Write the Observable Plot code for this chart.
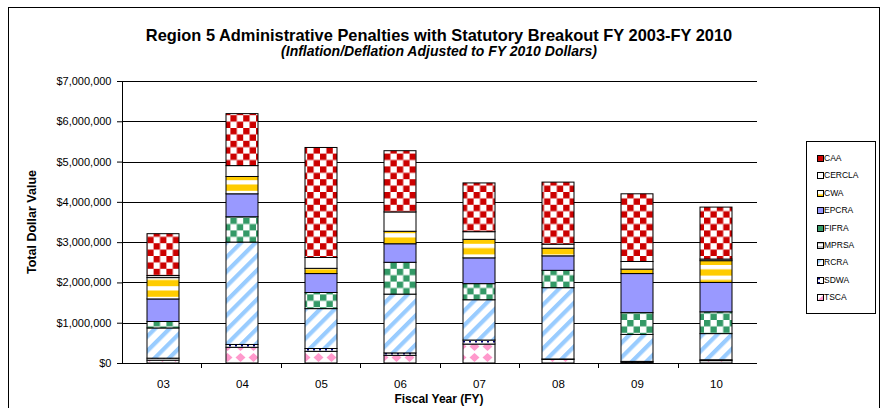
<!DOCTYPE html>
<html><head><meta charset="utf-8">
<script src="https://cdn.jsdelivr.net/npm/d3@7"></script>
<script src="https://cdn.jsdelivr.net/npm/@observablehq/plot@0.6"></script>
<style>
body{margin:0;background:#fff;font-family:Arial,"Liberation Sans",sans-serif;}
#wrap{position:relative;width:886px;height:408px;overflow:hidden;background:#fff;}
#border{position:absolute;left:8px;top:7px;width:872px;height:420px;border:1px solid #000;box-sizing:border-box;}
#chart{position:absolute;left:0;top:0;}
.t{position:absolute;white-space:nowrap;color:#000;}
#title{left:0;width:878px;top:26px;text-align:center;font-weight:bold;font-size:16.4px;line-height:18px;}
#subtitle{left:0;width:878px;top:44px;text-align:center;font-weight:bold;font-style:italic;font-size:14px;line-height:15px;}
#xtitle{left:339px;width:200px;top:393px;text-align:center;font-weight:bold;font-size:12px;line-height:13px;}
#ytitle{left:-68px;width:200px;top:215px;text-align:center;font-weight:bold;font-size:12.5px;line-height:14px;transform:rotate(-90deg);}
#legend{position:absolute;left:806px;top:141px;width:70px;height:173px;border:1px solid #000;box-sizing:border-box;background:#fff;}
.li{position:absolute;left:10px;height:10px;font-size:8.5px;line-height:10px;white-space:nowrap;}
.li svg{vertical-align:-1px;margin-right:0px;}
</style>
</head><body>
<div id="wrap">
  <div id="border"></div>
  <div id="chart"></div>
  <div class="t" id="title">Region 5 Administrative Penalties with Statutory Breakout FY 2003-FY 2010</div>
  <div class="t" id="subtitle">(Inflation/Deflation Adjusted to FY 2010 Dollars)</div>
  <div class="t" id="xtitle">Fiscal Year (FY)</div>
  <div class="t" id="ytitle">Total Dollar Value</div>
  <div id="legend"></div>
</div>
<script>
// ---- data ----
const years = ["03","04","05","06","07","08","09","10"];
// stacking order, bottom to top
const statutes = ["TSCA","SDWA","RCRA","MPRSA","FIFRA","EPCRA","CWA","CERCLA","CAA"];
// legend order (top to bottom)
const legendOrder = ["CAA","CERCLA","CWA","EPCRA","FIFRA","MPRSA","RCRA","SDWA","TSCA"];
const TSCA   = [70000, 390000, 290000, 190000, 470000, 90000, 20000, 60000];
const SDWA   = [50000, 70000, 70000, 60000, 100000, 10000, 20000, 20000];
const RCRA   = [750000, 2540000, 990000, 1460000, 1000000, 1770000, 670000, 650000];
const MPRSA  = [0, 0, 0, 0, 0, 0, 0, 0];
const FIFRA  = [160000, 630000, 400000, 790000, 400000, 430000, 540000, 540000];
const EPCRA  = [560000, 570000, 470000, 460000, 640000, 360000, 970000, 730000];
const CWA    = [530000, 430000, 130000, 310000, 460000, 190000, 110000, 540000];
const CERCLA = [50000, 270000, 270000, 480000, 190000, 100000, 190000, 40000];
const CAA    = [1040000, 1290000, 2730000, 1520000, 1210000, 1540000, 1680000, 1290000];
const yTicks = [0,1000000,2000000,3000000,4000000,5000000,6000000,7000000];

const series = {TSCA, SDWA, RCRA, MPRSA, FIFRA, EPCRA, CWA, CERCLA, CAA};
const rows = [];
for (const s of statutes) years.forEach((y, i) => { if (series[s][i] > 0) rows.push({year: y, statute: s, value: series[s][i]}); });

// ---- patterns ----
const patternDefs = `
<pattern id="p-CAA" patternUnits="userSpaceOnUse" width="12.8" height="12.8">
  <rect width="12.8" height="12.8" fill="#fff"/><rect width="6.4" height="6.4" fill="#CC0000"/><rect x="6.4" y="6.4" width="6.4" height="6.4" fill="#CC0000"/></pattern>
<pattern id="p-FIFRA" patternUnits="userSpaceOnUse" width="12.8" height="12.8">
  <rect width="12.8" height="12.8" fill="#fff"/><rect width="6.4" height="6.4" fill="#339966"/><rect x="6.4" y="6.4" width="6.4" height="6.4" fill="#339966"/></pattern>
<pattern id="p-CWA" patternUnits="userSpaceOnUse" width="10" height="10.6">
  <rect width="10" height="10.6" fill="#fff"/><rect y="4.3" width="10" height="6.3" fill="#FFCC00"/></pattern>
<pattern id="p-RCRA" patternUnits="userSpaceOnUse" width="10.3" height="10.3" patternTransform="rotate(45)">
  <rect width="10.3" height="10.3" fill="#fff"/><rect width="4.2" height="10.3" fill="#99CCFF"/></pattern>
<pattern id="p-TSCA" patternUnits="userSpaceOnUse" width="13" height="11">
  <rect width="13" height="11" fill="#fff"/><polygon points="6.5,1 11.5,5.5 6.5,10 1.5,5.5" fill="#FF99CC"/></pattern>
<pattern id="p-SDWA" patternUnits="userSpaceOnUse" width="6" height="4">
  <rect width="6" height="4" fill="#fff"/><rect x="1" y="1" width="2" height="1.5" fill="#000080"/></pattern>
<pattern id="p-MPRSA" patternUnits="userSpaceOnUse" width="4" height="4">
  <rect width="4" height="4" fill="#fff"/><rect width="4" height="2" fill="#C0C0C0"/></pattern>
<pattern id="p-CERCLA" patternUnits="userSpaceOnUse" width="4" height="4">
  <rect width="4" height="4" fill="#fff"/></pattern>
<pattern id="p-EPCRA" patternUnits="userSpaceOnUse" width="4" height="4">
  <rect width="4" height="4" fill="#9999FF"/></pattern>`;

// axis line and category boundary ticks (decoration only)
function axisDecor(index, scales, values, dims) {
  const {width, height, marginLeft, marginRight, marginTop, marginBottom} = dims;
  const g = d3.create("svg:g").attr("stroke", "#000").attr("stroke-width", 1).attr("shape-rendering", "crispEdges");
  const x0 = marginLeft, x1 = width - marginRight, yb = height - marginBottom;
  g.append("line").attr("x1", x0).attr("x2", x0).attr("y1", marginTop).attr("y2", yb);
  const bw = (x1 - x0) / years.length;
  for (let i = 1; i < years.length; i++) {
    const x = Math.round(x0 + i * bw) + 0.5;
    g.append("line").attr("x1", x).attr("x2", x).attr("y1", yb).attr("y2", yb + 5);
  }
  return g.node();
}

const svg = Plot.plot({
  width: 886,
  height: 408,
  marginLeft: 122,
  marginRight: 129,
  marginTop: 81,
  marginBottom: 45,
  style: {fontFamily: "Arial, 'Liberation Sans', sans-serif", fontSize: "11px", color: "#000", background: "transparent", overflow: "visible"},
  x: {type: "band", domain: years, paddingInner: 0.6, paddingOuter: 0.3, label: null},
  y: {domain: [0, 7000000], label: null},
  color: {domain: statutes, range: statutes.map(s => `url(#p-${s})`)},
  marks: [
    Plot.gridY(yTicks, {stroke: "#000", strokeOpacity: 1, strokeWidth: 1, shapeRendering: "crispEdges"}),
    Plot.barY(rows, Plot.stackY({x: "year", y: "value", fill: "statute", order: statutes, stroke: "#000", strokeWidth: 1})),
    Plot.ruleY([0], {stroke: "#000", shapeRendering: "crispEdges"}),
    Plot.axisY(yTicks, {tickFormat: d3.format("$,"), tickSize: 5, tickPadding: 6, label: null, fill: "#000", stroke: "#000", fontSize: 11}),
    Plot.axisX({tickSize: 0, tickPadding: 16, label: null, fill: "#000", fontSize: 11.5}),
    axisDecor
  ]
});
d3.select(svg).insert("defs", ":first-child").html(patternDefs);
document.getElementById("chart").appendChild(svg);

// legend
const leg = document.getElementById("legend");
legendOrder.forEach((s, i) => {
  const d = document.createElement("div");
  d.className = "li";
  d.style.top = (11 + i * 17.4) + "px";
  d.innerHTML = `<svg width="7" height="7"><rect x="0.5" y="0.5" width="6" height="6" fill="url(#p-${s})" stroke="#000" stroke-width="1"/></svg>${s}`;
  leg.appendChild(d);
});
</script>
</body></html>
